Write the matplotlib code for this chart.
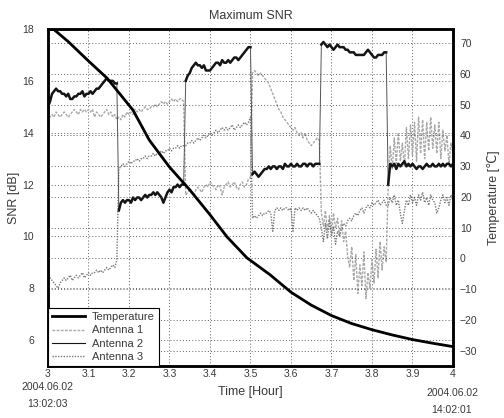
import matplotlib.pyplot as plt
import numpy as np

plt.rcParams['font.family'] = ['Liberation Sans', 'DejaVu Sans']

# one SNR reading every 0.005 h, 3.000 .. 4.000
t = np.round(3.0 + 0.005 * np.arange(201), 3)

# Antenna 1 (light gray)
ant1 = [14.4, 14.6, 14.7, 14.6, 14.8, 14.7, 14.6, 14.7, 14.8, 14.7, 14.6, 14.7, 14.8, 14.9, 14.8, 14.7, 14.9, 14.8,
        14.9, 14.8, 14.9, 14.8, 14.9, 14.6, 14.8, 14.7, 14.6, 14.7, 14.8, 14.9, 14.7, 14.8, 14.6, 14.7, 14.5,
        14.6, 14.5, 14.7, 14.6, 14.8, 14.7, 14.8, 14.7, 14.9, 14.8, 14.9, 14.8, 14.9, 15.0, 14.9, 14.9, 15.0,
        15.0, 15.1, 15.0, 15.1, 15.2, 15.1, 15.2, 15.1, 15.2, 15.3, 15.2, 15.3, 15.2, 15.3, 15.3, 15.2,
        11.6, 11.7, 11.8, 11.7, 11.6, 11.8, 11.9, 11.8, 11.7, 11.9, 12.0, 11.9, 12.1, 12.0, 11.9, 11.8, 12.0,
        11.9, 11.6, 11.9, 12.0, 12.1, 11.9, 12.0, 12.1, 11.9, 11.8, 12.0, 12.1, 11.9, 12.0, 12.2, 12.3,
        16.3, 16.4, 16.3, 16.2, 16.3, 16.2, 16.1, 16.0, 15.9, 15.7, 15.5, 15.3, 15.1, 14.9, 14.8, 14.6, 14.5,
        14.4, 14.3, 14.2, 14.1, 14.2, 14.0, 13.9, 14.0, 13.8, 14.0, 13.7, 13.6, 13.5, 13.6, 13.7, 13.8, 13.7,
        10.9, 10.4, 11.0, 10.2, 10.8, 10.1, 10.9, 10.3, 10.7, 10.0, 10.6, 9.8, 10.2, 9.2, 8.8, 9.6, 8.3,
        9.3, 7.8, 8.9, 8.1, 9.4, 7.6, 8.6, 8.0, 9.1, 8.2, 9.5, 8.4, 9.8, 8.7, 9.6, 9.0,
        12.0, 13.5, 12.6, 13.8, 12.8, 14.0, 12.9, 13.6, 12.7, 14.2, 13.0, 14.3, 13.1, 14.4, 12.9, 14.6, 13.2,
        14.5, 13.0, 14.4, 13.3, 14.6, 13.4, 14.3, 13.2, 14.4, 13.0, 14.1, 13.3, 13.9, 12.8, 13.6, 13.2]

# Antenna 2 (dark, very noisy)
ant2 = [15.0, 15.2, 15.5, 15.6, 15.7, 15.6, 15.6, 15.5, 15.5, 15.4, 15.5, 15.3, 15.3, 15.4, 15.4, 15.5, 15.5, 15.6,
        15.4, 15.5, 15.5, 15.6, 15.5, 15.6, 15.7, 15.7, 15.8, 15.9, 16.0, 16.1, 16.0, 16.0, 16.0, 15.9, 15.9,
        11.0, 11.3, 11.4, 11.3, 11.4, 11.4, 11.3, 11.5, 11.4, 11.5, 11.5, 11.4, 11.5, 11.6, 11.5, 11.6, 11.6,
        11.7, 11.6, 11.7, 11.6, 11.5, 11.3, 11.5, 11.7, 11.8, 11.7, 11.9, 11.9, 12.0, 11.9, 12.0, 12.0,
        16.0, 16.2, 16.3, 16.5, 16.6, 16.7, 16.6, 16.6, 16.5, 16.6, 16.4, 16.4, 16.4, 16.5, 16.6, 16.7, 16.7,
        16.6, 16.8, 16.7, 16.7, 16.8, 16.7, 16.8, 16.9, 16.9, 16.8, 16.9, 17.0, 17.1, 17.2, 17.3, 17.3,
        12.4, 12.5, 12.4, 12.3, 12.4, 12.5, 12.6, 12.6, 12.7, 12.6, 12.7, 12.7, 12.6, 12.7, 12.7, 12.6, 12.8,
        12.7, 12.7, 12.8, 12.7, 12.7, 12.8, 12.7, 12.7, 12.8, 12.8, 12.7, 12.8, 12.8, 12.7, 12.8, 12.8, 12.8,
        17.4, 17.5, 17.4, 17.3, 17.4, 17.3, 17.2, 17.3, 17.4, 17.3, 17.3, 17.3, 17.2, 17.2, 17.1, 17.1, 17.1,
        17.0, 17.0, 17.0, 17.0, 17.0, 17.1, 17.2, 17.1, 17.0, 16.9, 16.9, 17.0, 17.0, 17.0, 17.1, 17.1,
        12.0, 12.8, 12.7, 12.8, 12.6, 12.8, 12.7, 12.8, 12.9, 12.7, 12.8, 12.7, 12.8, 12.7, 12.6, 12.7, 12.7,
        12.6, 12.7, 12.8, 12.7, 12.7, 12.8, 12.7, 12.7, 12.8, 12.7, 12.8, 12.7, 12.8, 12.8, 12.7, 12.8]

# Antenna 3 (gray)
ant3 = [8.5, 8.4, 8.3, 8.2, 8.1, 8.0, 8.2, 8.3, 8.4, 8.3, 8.4, 8.5, 8.3, 8.4, 8.5, 8.4, 8.5, 8.6,
        8.4, 8.5, 8.6, 8.5, 8.6, 8.6, 8.7, 8.6, 8.7, 8.6, 8.7, 8.8, 8.7, 8.8, 8.9, 8.8, 9.1,
        12.6, 12.7, 12.8, 12.7, 12.8, 12.9, 12.8, 12.9, 12.9, 13.0, 12.9, 13.0, 13.0, 13.1, 13.0, 13.1, 13.1,
        13.2, 13.1, 13.2, 13.2, 13.3, 13.2, 13.3, 13.3, 13.4, 13.3, 13.4, 13.4, 13.5, 13.4, 13.5, 13.5,
        13.5, 13.6, 13.6, 13.7, 13.6, 13.7, 13.8, 13.7, 13.8, 13.9, 13.8, 13.9, 14.0, 13.9, 14.0, 14.1, 14.0,
        14.1, 14.2, 14.1, 14.2, 14.1, 14.2, 14.3, 14.1, 14.2, 14.3, 14.2, 14.3, 14.4, 14.3, 14.4, 14.6,
        10.7, 10.8, 10.7, 10.8, 10.9, 10.8, 10.9, 10.9, 11.0, 10.9, 10.2, 11.0, 11.1, 11.0, 11.1, 11.0, 11.1,
        11.1, 11.0, 11.1, 10.2, 11.1, 11.0, 11.1, 11.0, 11.1, 11.0, 11.1, 11.0, 10.9, 11.0, 10.9, 10.8, 10.7,
        10.3, 9.8, 10.5, 9.9, 10.6, 10.0, 10.4, 9.7, 10.2, 10.0, 10.3, 10.5, 10.4, 10.6, 10.7, 10.6, 10.8,
        10.9, 10.8, 11.0, 11.1, 10.9, 11.1, 11.2, 11.1, 11.3, 11.2, 11.3, 11.4, 11.2, 11.3, 11.4, 11.2,
        11.2, 11.5, 11.3, 11.6, 11.2, 11.4, 10.9, 10.5, 11.0, 11.4, 11.2, 11.6, 11.3, 11.5, 11.2, 11.6, 11.4,
        11.7, 11.3, 11.5, 11.2, 11.6, 11.4, 11.3, 10.9, 11.1, 11.4, 11.6, 11.3, 11.5, 11.2, 11.6, 11.4]

# temperature curve (right axis)
temp_t = [3.000, 3.015, 3.050, 3.100, 3.146, 3.210, 3.250, 3.300, 3.350, 3.400, 3.442,
          3.491, 3.548, 3.600, 3.650, 3.700, 3.750, 3.800, 3.850, 3.900, 3.950, 4.000]
temp = [74.6, 74.4, 70.5, 64.2, 58.6, 48.2, 38.5, 29.7, 22.3, 14.2, 7.0,
        0.2, -5.3, -11.0, -15.2, -18.6, -21.2, -23.2, -24.9, -26.4, -27.6, -28.7]

xticks = [3.0, 3.1, 3.2, 3.3, 3.4, 3.5, 3.6, 3.7, 3.8, 3.9, 4.0]
xlabels = ['3', '3.1', '3.2', '3.3', '3.4', '3.5', '3.6', '3.7', '3.8', '3.9', '4']
snr_ticks = [6, 8, 10, 12, 14, 16, 18]
temp_ticks = [-30, -20, -10, 0, 10, 20, 30, 40, 50, 60, 70]

tc = '#3a3a3a'
fig = plt.figure(figsize=(5.04, 4.18), dpi=100)
ax = fig.add_axes([0.0952, 0.1244, 0.8036, 0.8062])
ax2 = ax.twinx()

l1, = ax.plot(t, ant1, color='#a8a8a8', lw=1.0, ls=(0, (2, 1)), label='Antenna 1')
l3, = ax.plot(t, ant3, color='#7a7a7a', lw=1.0, ls=(0, (1, 1)), label='Antenna 3')

# antenna 2: thin line incl. the jumps, heavy line only along each segment
a2 = np.array(ant2)
ax.plot(t, a2, color='#555555', lw=0.7)
jump = np.where(np.abs(np.diff(a2)) > 2)[0] + 1
ts = np.insert(t, jump, np.nan)
ys = np.insert(a2, jump, np.nan)
ax.plot(ts, ys, color='#151515', lw=1.8)
l2, = ax.plot([], [], color='#151515', lw=0.8, label='Antenna 2')

lt, = ax2.plot(temp_t, temp, color='black', lw=2.0, label='Temperature')

ax.set_xlim(3, 4)
ax.set_ylim(5, 18)
ax2.set_ylim(-35, 74.6)
ax.set_xticks(xticks)
ax.set_xticklabels(xlabels)
ax.set_yticks(snr_ticks)
ax2.set_yticks(temp_ticks)

gs = dict(color='#333333', lw=0.5, ls=(0, (1.5, 3)))
ax.grid(True, **gs)
ax2.grid(True, axis='y', **gs)

ax.tick_params(axis='x', length=0, pad=2.5, labelsize=7.5, labelcolor=tc)
ax.tick_params(axis='y', length=0, pad=10, labelsize=7.5, labelcolor=tc)
ax2.tick_params(axis='y', length=0, pad=5, labelsize=7.5, labelcolor=tc)
for a in (ax, ax2):
    for s in a.spines.values():
        s.set_linewidth(1.8)

ax.set_title('Maximum SNR', fontsize=9, color=tc, pad=7)
ax.set_xlabel('Time [Hour]', fontsize=9, color=tc, labelpad=5)
ax.set_ylabel('SNR [dB]', fontsize=9, color=tc, labelpad=2)
ax2.set_ylabel('Temperature [\u2103]', fontsize=9, color=tc, labelpad=7)

# start / end stamps under the x axis
fig.text(47 / 504, 1 - 387 / 418, '2004.06.02', ha='center', va='center', fontsize=7.5, color=tc)
fig.text(47 / 504, 1 - 404 / 418, '13:02:03', ha='center', va='center', fontsize=7.5, color=tc)
fig.text(452 / 504, 1 - 393 / 418, '2004.06.02', ha='center', va='center', fontsize=7.5, color=tc)
fig.text(452 / 504, 1 - 410 / 418, '14:02:01', ha='center', va='center', fontsize=7.5, color=tc)

leg = ax2.legend(handles=[lt, l1, l2, l3], loc='lower left', bbox_to_anchor=(0, 0),
                 borderaxespad=0, fontsize=8, handlelength=3.0, handletextpad=0.6,
                 labelspacing=0.3, borderpad=0.35, fancybox=False, framealpha=1,
                 edgecolor='black')
leg.get_frame().set_linewidth(0.8)
for txt in leg.get_texts():
    txt.set_color(tc)

fig.savefig('out.png', dpi=100)
